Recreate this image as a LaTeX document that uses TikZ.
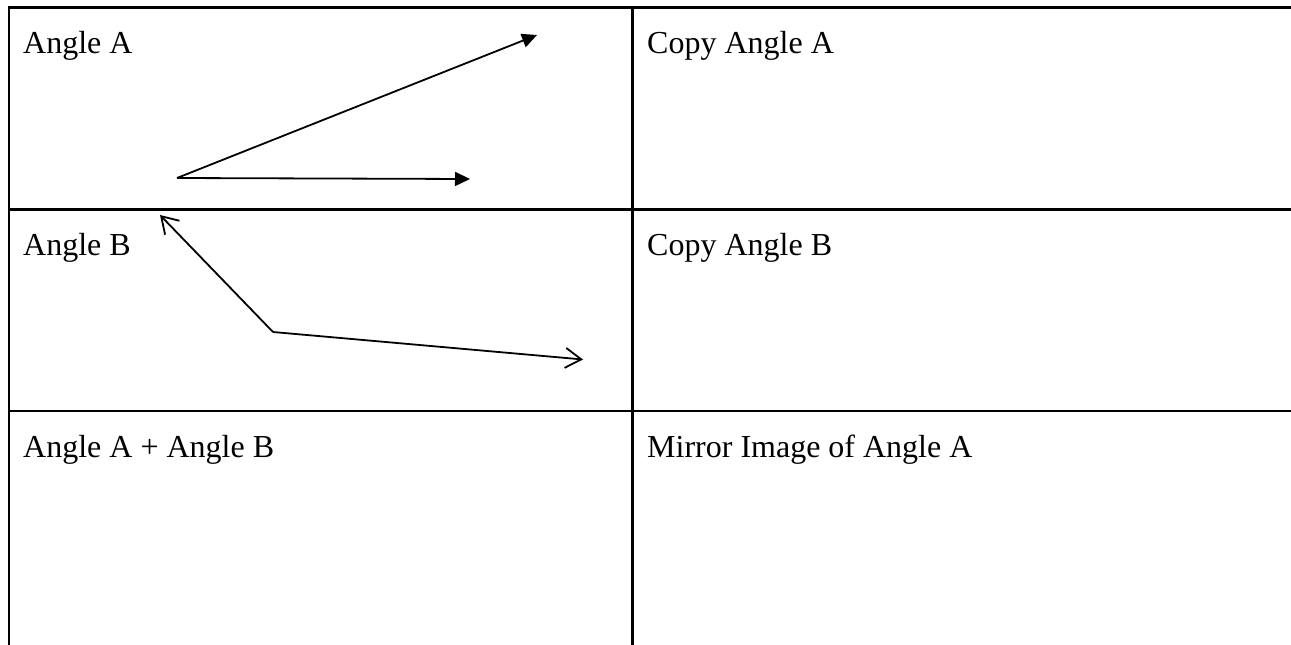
\documentclass[tikz,border=0pt]{standalone}
\usepackage{fontspec}
\setmainfont{Liberation Serif}
\usetikzlibrary{arrows.meta}
\begin{document}
\begin{tikzpicture}[x=1pt,y=-1pt,
  grid/.style={line width=2.7pt},
  cell/.style={anchor=base west,inner sep=0pt,font=\fontsize{32}{38}\selectfont},
  solidray/.style={line width=1.8pt,-{Triangle[length=15pt,width=14pt]}},
  openray/.style={line width=1.8pt,-{Straight Barb[length=16pt,width=20pt,line width=1.8pt]}}]
\useasboundingbox (0,0) rectangle (1291,645);

% table rules
\draw[grid] (9,7.3) -- (1291,7.3);
\draw[grid] (9,209.3) -- (1291,209.3);
\draw[grid] (9,411) -- (1291,411);
\draw[grid] (9,6) -- (9,645);
\draw[grid] (632.7,6) -- (632.7,645);

% cell captions
\node[cell] (a)  at (23,53)    {Angle A};
\node[cell] (ca) at (647,53)   {Copy Angle A};
\node[cell] (b)  at (23,255)   {Angle B};
\node[cell] (cb) at (647,255)  {Copy Angle B};
\node[cell] (ab) at (23,457)   {Angle A + Angle B};
\node[cell] (m)  at (647,457)  {Mirror Image of Angle A};

% angle A
\coordinate (va) at (177,178);
\coordinate (a1) at (537,35);
\coordinate (a2) at (470,179);
\draw[solidray] (va) -- (a1);
\draw[solidray] (va) -- (a2);

% angle B
\coordinate (vb) at (273,332);
\coordinate (b1) at (160,215);
\coordinate (b2) at (583,359.5);
\draw[openray] (vb) -- (b1);
\draw[openray] (vb) -- (b2);
\end{tikzpicture}
\end{document}
